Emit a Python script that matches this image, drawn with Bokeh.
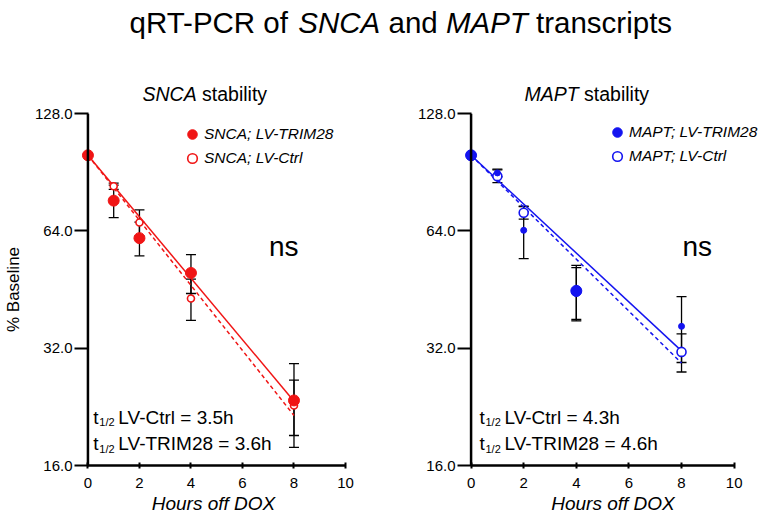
from bokeh.plotting import figure
from bokeh.models import (Range1d, FixedTicker, NumeralTickFormatter, Whisker, TeeHead,
                          ColumnDataSource, Legend, LegendItem, Span)
from bokeh.layouts import column, row
from bokeh.embed import file_html
from bokeh.resources import INLINE
from bokeh.core.properties import value

# ---------------- data ----------------
hours = [0, 1, 2, 4, 8]

snca_trim28 = [100.0, 76.5, 61.3, 49.9, 23.5]
snca_trim28_err = [0.0, 7.3, 6.1, 5.7, 5.7]
snca_ctrl = [100.0, 83.3, 67.2, 42.9, 22.8]
snca_ctrl_err = [0.0, 1.5, 5.2, 5.2, 3.7]

mapt_trim28 = [100.0, 90.1, 64.2, 44.9, 36.4]
mapt_trim28_err = [0.0, 2.0, 9.9, 7.3, 7.0]
mapt_ctrl = [100.0, 88.4, 71.2, 44.7, 31.3]
mapt_ctrl_err = [0.0, 3.3, 2.6, 6.8, 3.5]

fit_hours = [0, 8]
snca_fit_trim28 = [100.0, 23.4]
snca_fit_ctrl = [100.0, 21.5]
mapt_fit_trim28 = [100.0, 31.5]
mapt_fit_ctrl = [100.0, 29.3]

x_ticks = [0, 2, 4, 6, 8, 10]
y_ticks = [16, 32, 64, 128]

snca_half_lives = ["3.5h", "3.6h"]
mapt_half_lives = ["4.3h", "4.6h"]
half_life_groups = ["LV-Ctrl", "LV-TRIM28"]

# ---------------- styles ----------------
FONT = "Liberation Sans"
RED = "#f01515"
BLUE = "#1414f0"
snca_trim28_sizes = [11, 11, 11, 11, 11]
mapt_trim28_sizes = [11, 6, 6, 11, 6]

W = {'q': .556, 'R': .722, 'T': .611, '-': .333, 'P': .667, 'C': .722, ' ': .278,
     'o': .556, 'f': .278, 'S': .667, 'N': .722, 'A': .667, 'a': .556, 'n': .556,
     'd': .556, 'M': .833, 't': .278, 'r': .333, 's': .5, 'c': .5, 'i': .222,
     'p': .556, 'b': .556, 'l': .222, 'y': .5}


def tw(s, size):
    return sum(W.get(c, 0.556) for c in s) * size


# ---------------- title figure (main title + panel subtitles) ----------------
TITLE_H = 105
tf = figure(width=761, height=TITLE_H, x_range=Range1d(0, 761), y_range=Range1d(0, TITLE_H),
            output_backend="svg", toolbar_location=None, x_axis_location=None,
            y_axis_location=None, min_border=0)
tf.outline_line_color = None
tf.grid.visible = False


def rich_text(fig, x0, y0, pieces, size):
    xpos = x0
    for txt, st, trail in pieces:
        fig.text(x=[xpos], y=[y0], text=[txt], text_font=value(FONT),
                 text_font_size=f"{size}px", text_font_style=st,
                 text_baseline="alphabetic", text_align="left", text_color="black")
        xpos += tw(txt + trail, size)


rich_text(tf, 129, 83, [("qRT-PCR of", "normal", " "), ("SNCA", "italic", " "),
                        ("and", "normal", " "), ("MAPT", "italic", " "),
                        ("transcripts", "normal", "")], 29.5)
rich_text(tf, 142, 12, [("SNCA", "italic", " "), ("stability", "normal", "")], 19.5)
rich_text(tf, 524, 12, [("MAPT", "italic", " "), ("stability", "normal", "")], 19.5)


def make_panel(width, x_end, mb_left, mb_right, mb_top, gene, trim, trim_err, ctrl, ctrl_err,
               fit_trim, fit_ctrl, color, trim_sizes, ctrl_size, half_lives, legend_loc,
               ns_x, ns_y, t_x, t_y, show_ylabel):
    p = figure(width=width, height=411, output_backend="svg", toolbar_location=None,
               y_axis_type="log", x_range=Range1d(-0.25, x_end), y_range=Range1d(16, 128),
               min_border_left=mb_left, min_border_right=mb_right, min_border_top=mb_top,
               min_border_bottom=49)
    p.outline_line_color = None
    p.grid.visible = False

    # x axis
    xa = p.xaxis[0]
    xa.ticker = FixedTicker(ticks=x_ticks, minor_ticks=[])
    xa.bounds = (0, 10)
    xa.axis_line_width = 2.5
    xa.axis_line_color = "black"
    xa.major_tick_in = 3
    xa.major_tick_out = 3
    xa.major_tick_line_width = 2
    xa.minor_tick_line_color = None
    xa.major_label_text_font = FONT
    xa.major_label_text_font_size = "15px"
    xa.major_label_text_color = "black"
    xa.major_label_standoff = 9
    xa.axis_label = "Hours off DOX"
    xa.axis_label_text_font = FONT
    xa.axis_label_text_font_size = "19px"
    xa.axis_label_text_font_style = "italic"
    xa.axis_label_text_color = "black"
    xa.axis_label_standoff = 2

    # y axis (its line is drawn at hour 0 by the span below)
    ya = p.yaxis[0]
    ya.ticker = FixedTicker(ticks=y_ticks, minor_ticks=[])
    ya.formatter = NumeralTickFormatter(format="0.0")
    ya.axis_line_color = None
    ya.major_tick_in = 7
    ya.major_tick_out = 7
    ya.major_tick_line_width = 2
    ya.minor_tick_line_color = None
    ya.major_label_text_font = FONT
    ya.major_label_text_font_size = "15px"
    ya.major_label_text_color = "black"
    ya.major_label_standoff = 2
    if show_ylabel:
        ya.axis_label = "% Baseline"
        ya.axis_label_text_font = FONT
        ya.axis_label_text_font_size = "17px"
        ya.axis_label_text_font_style = "normal"
        ya.axis_label_text_color = "black"
        ya.axis_label_standoff = 9
    p.add_layout(Span(location=0, dimension="height", line_color="black", line_width=2.5))

    # fit lines
    p.line(fit_hours, fit_trim, line_color=color, line_width=1.5)
    p.line(fit_hours, fit_ctrl, line_color=color, line_width=1.5, line_dash="4 3")

    # error bars
    for vals, errs in ((trim, trim_err), (ctrl, ctrl_err)):
        src = ColumnDataSource(dict(
            x=hours[1:],
            lower=[v - e for v, e in zip(vals[1:], errs[1:])],
            upper=[v + e for v, e in zip(vals[1:], errs[1:])]))
        w = Whisker(source=src, base="x", lower="lower", upper="upper",
                    line_color="black", line_width=1.3,
                    upper_head=TeeHead(size=10, line_color="black", line_width=1.3),
                    lower_head=TeeHead(size=10, line_color="black", line_width=1.3))
        p.add_layout(w)

    # points
    csrc = ColumnDataSource(dict(x=hours, y=ctrl))
    r_ctrl = p.scatter("x", "y", source=csrc, marker="circle", size=ctrl_size,
                       fill_color="white", line_color=color, line_width=1.6)
    tsrc = ColumnDataSource(dict(x=hours, y=trim, s=trim_sizes))
    r_trim = p.scatter("x", "y", source=tsrc, marker="circle", size="s",
                       fill_color=color, line_color=color, line_width=1)

    legend = Legend(items=[LegendItem(label=f"{gene}; LV-TRIM28", renderers=[r_trim]),
                           LegendItem(label=f"{gene}; LV-Ctrl", renderers=[r_ctrl])],
                    location=legend_loc, glyph_width=24, glyph_height=24, label_height=24,
                    label_standoff=0, spacing=0, padding=0, border_line_color=None,
                    background_fill_alpha=0, label_text_font=FONT,
                    label_text_font_size="15.5px", label_text_font_style="italic",
                    label_text_color="black")
    p.add_layout(legend)

    # ns
    p.text(x=[ns_x], y=[ns_y], text=["ns"], text_font=value(FONT), text_font_size="28px",
           text_align="center", text_baseline="middle", text_color="black")

    # half-lives
    for i, (grp, hl) in enumerate(zip(half_life_groups, half_lives)):
        yv = t_y[i]
        p.text(x=[t_x], y=[yv], text=["t"], text_font=value(FONT), text_font_size="19px",
               text_baseline="alphabetic", text_color="black")
        p.text(x=[t_x], y=[yv], text=["1/2"], text_font=value(FONT), text_font_size="11px",
               x_offset=6, y_offset=5, text_baseline="alphabetic", text_color="black")
        p.text(x=[t_x], y=[yv], text=[f"{grp} = {hl}"], text_font=value(FONT),
               text_font_size="19px", x_offset=25, text_baseline="alphabetic",
               text_color="black")
    return p


p1 = make_panel(412, 10.0, 78, 67, 8, "SNCA", snca_trim28, snca_trim28_err, snca_ctrl,
                snca_ctrl_err, snca_fit_trim28, snca_fit_ctrl, RED, snca_trim28_sizes, 7,
                snca_half_lives, (99, 295), 7.6, 58.5, 0.21, [21.3, 18.2], True)
p2 = make_panel(349, 11.04, 52, 0, 7, "MAPT", mapt_trim28, mapt_trim28_err, mapt_ctrl,
                mapt_ctrl_err, mapt_fit_trim28, mapt_fit_ctrl, BLUE, mapt_trim28_sizes, 9,
                mapt_half_lives, (141, 297), 8.6, 58.5, 0.32, [21.3, 18.2], False)

layout = column(tf, row(p1, p2))
open("out.html", "w").write(file_html(layout, INLINE))
